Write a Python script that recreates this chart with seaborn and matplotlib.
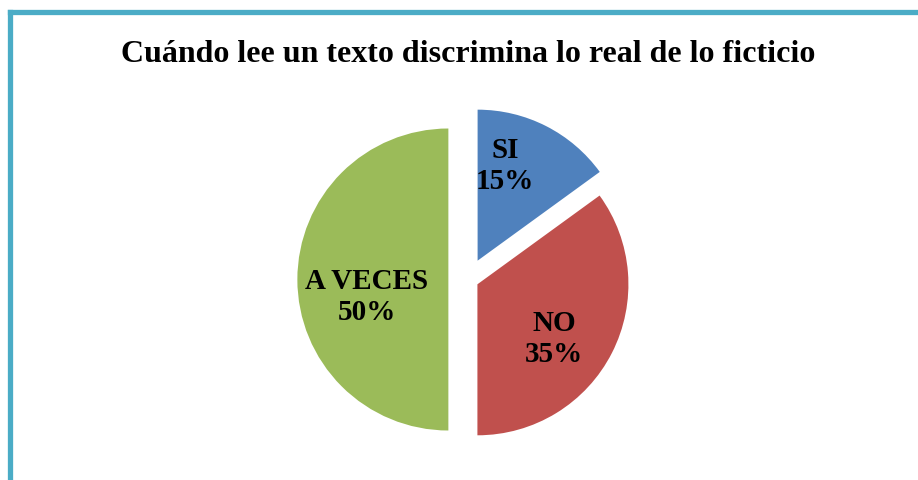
import matplotlib
matplotlib.use("Agg")
import numpy as np
import matplotlib.pyplot as plt
from matplotlib.lines import Line2D
import seaborn as sns

# data
categories = ["SI", "NO", "A VECES"]
percentages = [15, 35, 50]
colors = ["#4F81BD", "#C0504D", "#9BBB59"]
explode = [0.14, 0.07, 0.13]
title = "Cuándo lee un texto discrimina lo real de lo ficticio"

sns.set_theme(style="white")
plt.rcParams["font.family"] = ["Liberation Serif", "DejaVu Serif"]

fig = plt.figure(figsize=(9.18, 4.81), dpi=100)
fig.patch.set_facecolor("white")

# pie axes: centre ~ (468, 280) px, radius ~151 px
half = 1.3
ax = fig.add_axes([(468 - half * 151) / 918, (200.5 - half * 151) / 481,
                   2 * half * 151 / 918, 2 * half * 151 / 481])

labels_iter = iter(categories)
wedges, texts, autotexts = ax.pie(
    percentages,
    colors=colors,
    explode=explode,
    startangle=90,
    counterclock=False,
    autopct=lambda p: f"{next(labels_iter)}\n{p:.0f}%",
    pctdistance=0.62,
    wedgeprops={"linewidth": 0},
    textprops={"fontsize": 21, "fontweight": "bold", "color": "black",
               "linespacing": 1.22},
)

# Excel-like label placement inside each slice (distance, angle in degrees)
label_place = [(0.66, 74), (0.62, -35), (0.55, 191.5)]
for w, t, (d, a) in zip(wedges, autotexts, label_place):
    cx, cy = w.center
    t.set_position((cx + d * np.cos(np.radians(a)), cy + d * np.sin(np.radians(a))))

ax.set_xlim(-half, half)
ax.set_ylim(-half, half)
ax.axis("off")

fig.text(468 / 918, 1 - 54 / 481, title, ha="center", va="center",
         fontsize=23, fontweight="bold", color="black")

# chart frame (cropped on right and bottom)
border = "#4BACC6"
fig.add_artist(Line2D([9.5 / 918, 9.5 / 918], [0, 1 - 13 / 481],
                      transform=fig.transFigure, color=border, linewidth=3.8,
                      solid_capstyle="projecting"))
fig.add_artist(Line2D([9.5 / 918, 1.0], [1 - 13 / 481, 1 - 13 / 481],
                      transform=fig.transFigure, color=border, linewidth=3.8,
                      solid_capstyle="projecting"))

fig.savefig("out.png", dpi=100)
